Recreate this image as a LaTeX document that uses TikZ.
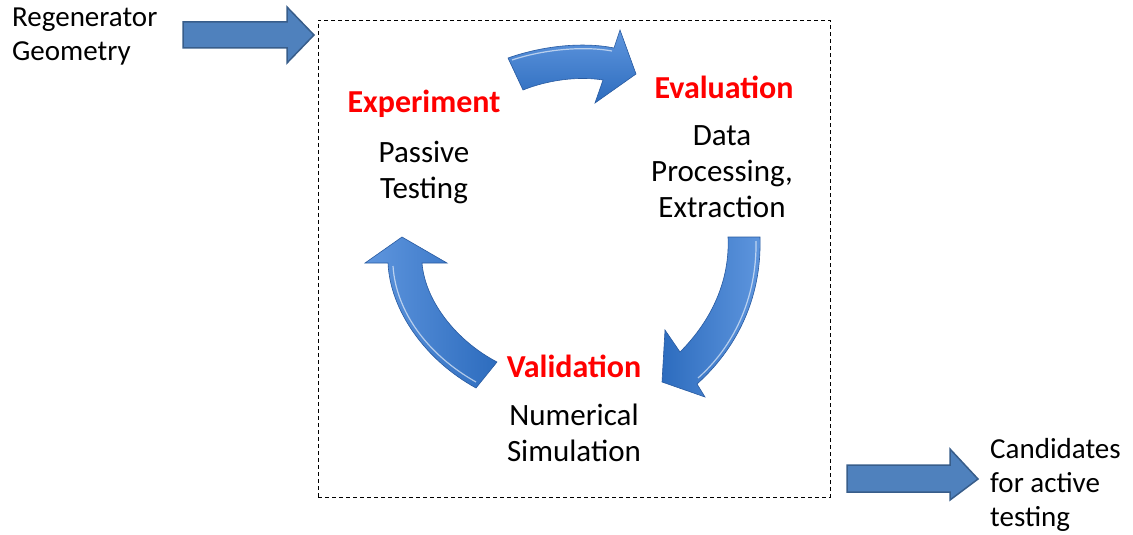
\documentclass[tikz,border=0pt]{standalone}
\usepackage{fontspec}
\setmainfont{Carlito}
\begin{document}
\begin{tikzpicture}[x=1pt,y=-1pt,
  outtxt/.style={inner sep=0pt, font=\fontsize{29}{34}\selectfont, align=left},
  txt/.style={inner sep=0pt, font=\fontsize{31}{36}\selectfont, align=center},
  ttl/.style={inner sep=0pt, font=\fontsize{32}{36}\selectfont\bfseries, text=red},
  flatarrow/.style={fill=flatblue, draw=flatedge, line width=1.5pt, line join=miter},
  curvearrow/.style={draw=curveedge, line width=0.6pt, top color=curvelight, bottom color=curvedark},
  bevel/.style={draw=white, opacity=0.6, line width=1.2pt}]
\definecolor{flatblue}{RGB}{79,129,189}
\definecolor{flatedge}{RGB}{56,93,138}
\definecolor{curvelight}{RGB}{95,150,222}
\definecolor{curvedark}{RGB}{45,108,190}
\definecolor{curveedge}{RGB}{40,90,160}
\useasboundingbox (0,0) rectangle (1133,535);

% dashed frame
\node[draw, dash pattern=on 4pt off 3pt, line width=0.9pt, minimum width=512pt, minimum height=477pt, inner sep=0pt] (frame) at (574,258.5) {};

% input / output arrows
\draw[flatarrow] (183,22) -- (287,22) -- (287,7) -- (314,35) -- (287,63) -- (287,48) -- (183,48) -- cycle;
\draw[flatarrow] (847,465) -- (950,465) -- (950,449) -- (978,479) -- (950,500) -- (950,492) -- (847,492) -- cycle;

% curved arrows
\path[curvearrow] (508,58) .. controls (545,45) and (585,42) .. (614,48)
  -- (620,30) -- (636,74) -- (595,103) -- (603,80)
  .. controls (578,76) and (548,80) .. (523,90) -- cycle;
\draw[bevel] (512,60) .. controls (545,49) and (585,46) .. (612,51);

\path[curvearrow, left color=curvedark, right color=curvelight] (728,237) -- (760,237)
  .. controls (762,300) and (735,350) .. (697,384)
  -- (705,397) -- (662,382) -- (665,330) -- (680,352)
  .. controls (712,320) and (730,280) .. (728,237) -- cycle;
\draw[bevel] (756,241) .. controls (757,300) and (732,348) .. (698,378);

\path[curvearrow, left color=curvelight, right color=curvedark] (388,263) -- (365,263) -- (402,237) -- (447,263) -- (422,263)
  .. controls (425,300) and (455,340) .. (497,362)
  -- (476,388)
  .. controls (425,360) and (390,310) .. (388,263) -- cycle;
\draw[bevel] (393,266) .. controls (396,312) and (428,355) .. (476,382);

% texts
\node[outtxt, anchor=west] (geo) at (12,37) {Regenerator\\Geometry};
\node[outtxt, anchor=west] (cand) at (990,485) {Candidates\\for active\\testing};
\node[ttl] (exp) at (424,104) {Experiment};
\node[txt] (pas) at (424,172) {Passive\\Testing};
\node[ttl] (eva) at (724,87) {Evaluation};
\node[txt] (dat) at (722,172) {Data\\Processing,\\Extraction};
\node[ttl] (val) at (574,366) {Validation};
\node[txt] (num) at (574,433) {Numerical\\Simulation};
\end{tikzpicture}
\end{document}
